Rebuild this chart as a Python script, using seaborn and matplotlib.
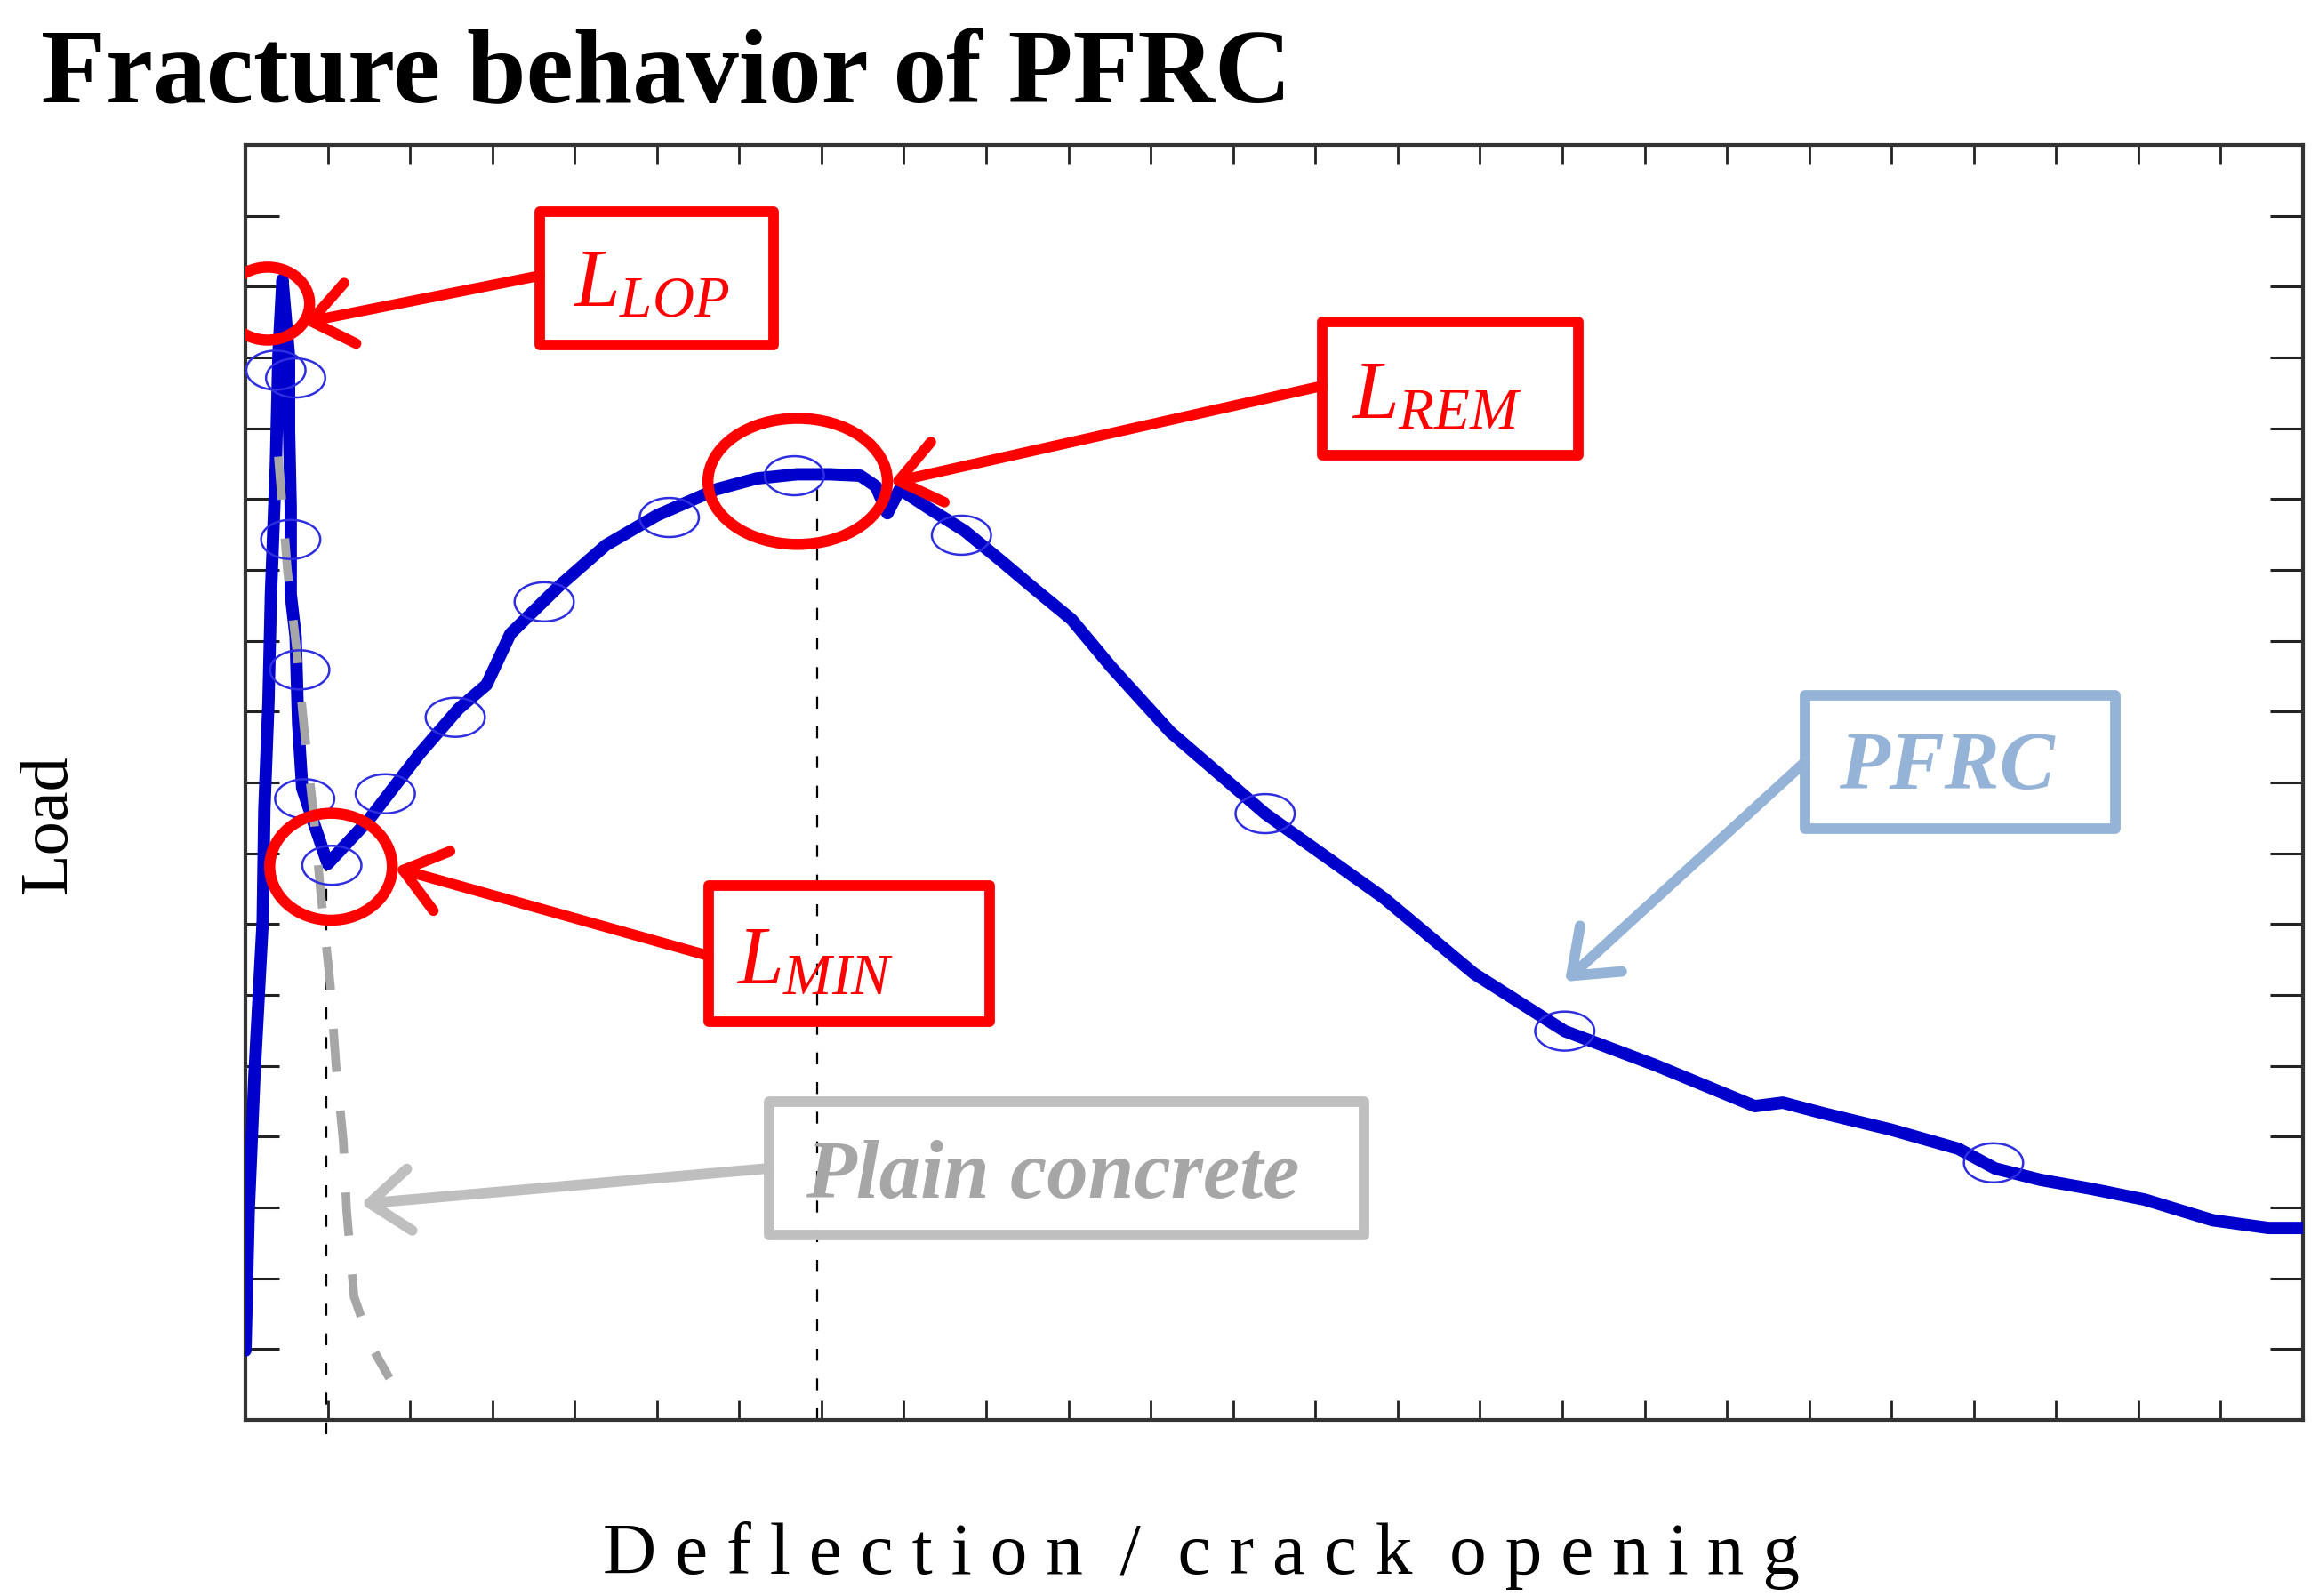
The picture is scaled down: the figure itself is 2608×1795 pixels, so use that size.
import matplotlib
matplotlib.use("Agg")
import matplotlib.pyplot as plt
import numpy as np
import seaborn as sns
from matplotlib.patches import Ellipse, Rectangle
from matplotlib.path import Path

# PFRC load / deflection curve (axis units = tick intervals)
pfrc_x = [0.00, 0.04, 0.11, 0.21, 0.23, 0.28, 0.31, 0.37, 0.40, 0.45,
          0.53, 0.53, 0.55, 0.55, 0.61, 0.64, 0.69, 0.83, 1.00,
          1.49, 2.12, 2.59, 2.93, 3.22, 3.80, 4.38, 5.00, 5.73, 6.21,
          6.70, 7.10, 7.47, 7.66, 7.80, 7.95, 8.33, 8.74, 9.17, 9.60,
          10.04, 10.52, 11.24, 12.39, 13.83, 14.93, 16.03, 17.13, 18.34,
          18.68, 19.17, 19.99, 20.81, 21.26, 21.81, 22.44, 23.08, 23.90,
          24.58, 25.00]
pfrc_y = [0.98, 2.96, 4.88, 7.04, 8.62, 10.14, 11.66, 13.49, 15.01, 16.10,
          15.01, 13.97, 12.88, 11.66, 11.06, 9.84, 8.92, 8.43, 7.85,
          8.46, 9.41, 10.04, 10.38, 11.10, 11.76, 12.35, 12.77, 13.14, 13.29,
          13.35, 13.35, 13.33, 13.18, 12.80, 13.14, 12.85, 12.55, 12.14, 11.72,
          11.30, 10.63, 9.71, 8.56, 7.37, 6.30, 5.49, 5.01, 4.43,
          4.48, 4.33, 4.10, 3.83, 3.55, 3.39, 3.26, 3.11, 2.82,
          2.71, 2.71]

# plain concrete softening branch
plain_x = [0.40, 0.51, 0.62, 0.71, 0.82, 0.91, 1.03, 1.10, 1.19, 1.23, 1.32, 1.53, 1.75]
plain_y = [13.6, 12.0, 10.9, 9.8, 8.65, 7.5, 6.16, 5.01, 3.92, 2.96, 1.74, 1.04, 0.59]

# hand drawn blue circles on the curve
mark_x = [0.37, 0.61, 0.55, 0.66, 0.72, 1.05, 1.70, 2.55, 3.63, 5.15, 6.67, 8.70, 12.39, 16.03, 21.24]
mark_y = [14.82, 14.71, 12.43, 10.59, 8.77, 7.83, 8.84, 9.92, 11.55, 12.74, 13.33, 12.49, 8.56, 5.49, 3.63]

# red highlight circles: L_LOP, L_REM, L_MIN
key_x = [0.27, 6.71, 1.04]
key_y = [15.76, 13.25, 7.81]

# vertical guides under L_MIN and L_REM
guide_x = [0.98, 6.95]
guide_top = [7.85, 13.2]

x_ticks = list(range(1, 25))
y_ticks = list(range(1, 18))

W, H = 2608, 1795
AX_L, AX_R, AX_T, AX_B = 276, 2590, 163, 1597


def axpos(px, py):
    """reference pixel -> axes fraction"""
    return (px - AX_L) / (AX_R - AX_L), (AX_B - py) / (AX_B - AX_T)


sns.set_style("ticks")
plt.rcParams["font.family"] = ["Liberation Serif", "DejaVu Serif"]
plt.rcParams["text.color"] = "black"
plt.rcParams["mathtext.fontset"] = "custom"
plt.rcParams["mathtext.it"] = "Liberation Serif:italic"
plt.rcParams["mathtext.rm"] = "Liberation Serif"

fig = plt.figure(figsize=(W / 100, H / 100), dpi=100)
ax = fig.add_axes([AX_L / W, 1 - AX_B / H, (AX_R - AX_L) / W, (AX_B - AX_T) / H])

# dashed guides
ax.vlines(guide_x, [-0.2, 0], guide_top, colors="black", lw=1.6,
          linestyles=[(0, (6, 9))], zorder=2, clip_on=False)

sns.lineplot(x=pfrc_x, y=pfrc_y, sort=False, estimator=None, color="#0000CD",
             linewidth=10, ax=ax, zorder=3)
sns.lineplot(x=plain_x, y=plain_y, sort=False, estimator=None, color="#A6A6A6",
             linewidth=7, linestyle=(0, (5, 4.5)), ax=ax, zorder=4)

t = np.linspace(0, 2 * np.pi, 60)
ell = Path(np.column_stack([np.cos(t), 0.66 * np.sin(t)]), closed=True)
ax.scatter(mark_x, mark_y, marker=ell, s=2300, facecolors="none",
           edgecolors="#2E2EE0", linewidths=1.8, zorder=5)

key_w = [1.02, 2.18, 1.49]
key_h = [1.03, 1.78, 1.51]
for kx, ky, kw, kh in zip(key_x, key_y, key_w, key_h):
    ax.add_patch(Ellipse((kx, ky), kw, kh, fill=False, ec="#FF0000", lw=9, zorder=6))

ax.set_xlim(0, 25)
ax.set_ylim(0, 18)
ax.set_xticks(x_ticks)
ax.set_yticks(y_ticks)
ax.set_xticklabels([])
ax.set_yticklabels([])
ax.tick_params(axis="x", direction="in", length=16, width=2, color="#222222",
               top=True, bottom=True)
ax.tick_params(axis="y", direction="in", length=27, width=2.2, color="#222222",
               left=True, right=True)
for sp in ax.spines.values():
    sp.set_color("#333333")
    sp.set_linewidth(3)
    sp.set_visible(True)

# callout boxes: text, colour, box (x0, y0, x1, y1), text anchor, arrow start, arrow tip
callouts = [
    (r"$L_{LOP}$", "#FF0000", (607, 238, 870, 388), (644, 345), (607, 310), (340, 363), "normal", "normal"),
    (r"$L_{REM}$", "#FF0000", (1487, 362, 1775, 512), (1520, 470), (1487, 434), (1001, 543), "normal", "normal"),
    (r"$L_{MIN}$", "#FF0000", (797, 996, 1113, 1149), (828, 1106), (797, 1075), (444, 976), "normal", "normal"),
    ("PFRC", "#95B3D7", (2030, 782, 2379, 932), (2068, 887), (2030, 857), (1760, 1104), "italic", "bold"),
    ("Plain concrete", "#BFBFBF", (865, 1239, 1534, 1389), (906, 1347), (865, 1314), (406, 1354), "italic", "bold"),
]
for txt, col, box, anchor, start, tip, style, weight in callouts:
    x0, y0 = axpos(box[0], box[3])
    x1, y1 = axpos(box[2], box[1])
    ax.add_patch(Rectangle((x0, y0), x1 - x0, y1 - y0, transform=ax.transAxes,
                           fill=False, ec=col, lw=8.5, joinstyle="round", zorder=7))
    tcol = "#A6A6A6" if txt == "Plain concrete" else col
    ax.text(*axpos(*anchor), txt, transform=ax.transAxes, color=tcol, fontsize=67,
            fontstyle=style, fontweight=weight, ha="left", va="baseline", zorder=8)
    ax.annotate("", xy=axpos(*tip), xycoords="axes fraction",
                xytext=axpos(*start), textcoords="axes fraction",
                arrowprops=dict(arrowstyle="->,head_length=0.65,head_width=0.5",
                                mutation_scale=50, lw=8.5, color=col,
                                shrinkA=0, shrinkB=0),
                zorder=7)

fig.text(46 / W, 1 - 115 / H, "Fracture behavior of PFRC", fontsize=86,
         fontweight="bold", color="black", ha="left", va="baseline")
fig.text(55 / W, 1 - 927 / H, "Load", fontsize=55, rotation=90, color="black",
         ha="center", va="center")
fig.text(1351 / W, 1 - 1770 / H, "D e f l e c t i o n  /  c r a c k  o p e n i n g",
         fontsize=60, color="black", ha="center", va="baseline")

fig.savefig("out.png", dpi=100)
